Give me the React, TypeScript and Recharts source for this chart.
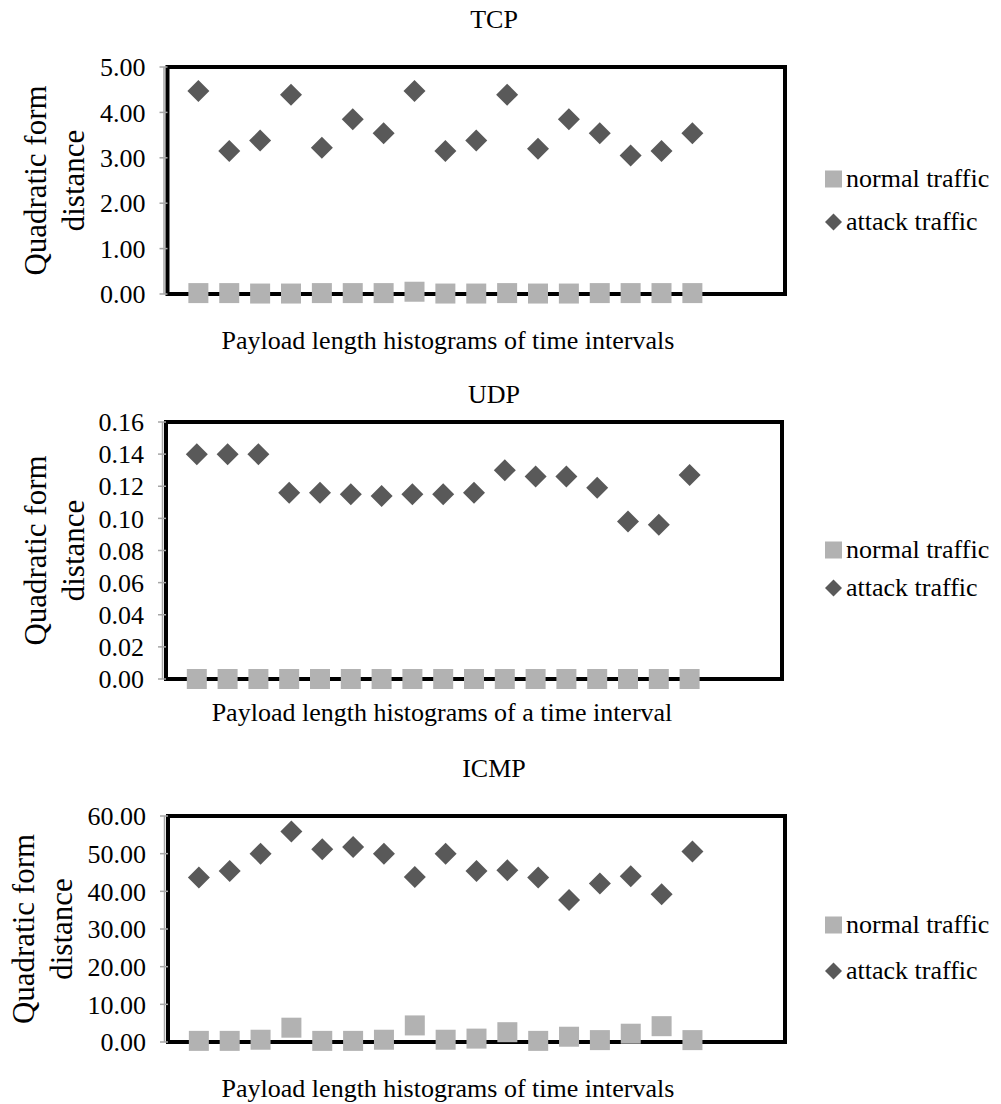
import React from 'react';
import { ScatterChart, Scatter, XAxis, YAxis, ReferenceArea, Legend, Label } from 'recharts';

// x positions of the histograms (Excel scatter, x axis runs 0..20)
const intervals = [1, 2, 3, 4, 5, 6, 7, 8, 9, 10, 11, 12, 13, 14, 15, 16, 17];

const tcpNormal = [0.02, 0.02, 0.01, 0.01, 0.02, 0.02, 0.02, 0.05, 0.01, 0.01, 0.02, 0.01, 0.01, 0.02, 0.02, 0.02, 0.02];
const tcpAttack = [4.47, 3.15, 3.38, 4.39, 3.22, 3.85, 3.54, 4.47, 3.15, 3.38, 4.39, 3.2, 3.85, 3.54, 3.05, 3.15, 3.54];

const udpNormal = [0, 0, 0, 0, 0, 0, 0, 0, 0, 0, 0, 0, 0, 0, 0, 0, 0];
const udpAttack = [0.14, 0.14, 0.14, 0.116, 0.116, 0.115, 0.114, 0.115, 0.115, 0.116, 0.13, 0.126, 0.126, 0.119, 0.098, 0.096, 0.127];

const icmpNormal = [0.3, 0.3, 0.6, 3.8, 0.3, 0.3, 0.6, 4.4, 0.6, 0.9, 2.6, 0.3, 1.4, 0.5, 2.2, 4.2, 0.5];
const icmpAttack = [43.7, 45.4, 50.0, 55.9, 51.2, 51.8, 50.0, 43.8, 50.0, 45.4, 45.6, 43.7, 37.7, 42.1, 44.0, 39.2, 50.6];

const tcpTicks = [0, 1, 2, 3, 4, 5];
const udpTicks = [0, 0.02, 0.04, 0.06, 0.08, 0.1, 0.12, 0.14, 0.16];
const icmpTicks = [0, 10, 20, 30, 40, 50, 60];

const seriesNames = ['normal traffic', 'attack traffic'];
const yTitle = ['Quadratic form', 'distance'];

const FONT = '"Liberation Serif", "Times New Roman", serif';
const normalColor = '#b2b2b2';
const attackColor = '#595959';
const axisGray = '#a6a6a6';

const toPoints = (ys: number[]) => intervals.map((x, i) => ({ x, y: ys[i] }));

const panels = [
  {
    title: 'TCP', xTitle: 'Payload length histograms of time intervals',
    normal: tcpNormal, attack: tcpAttack, ticks: tcpTicks,
    top: 0, height: 370, plotTop: 67, plotBottom: 294, plotLeft: 167.5, plotRight: 785,
    titleY: 20, xTitleX: 448, xTitleY: 340, yTitleX: 35, legendY: 179, legendGap: 43,
  },
  {
    title: 'UDP', xTitle: 'Payload length histograms of a time interval',
    normal: udpNormal, attack: udpAttack, ticks: udpTicks,
    top: 370, height: 375, plotTop: 422, plotBottom: 679, plotLeft: 166, plotRight: 782,
    titleY: 395, xTitleX: 442, xTitleY: 712, yTitleX: 35, legendY: 550, legendGap: 38,
  },
  {
    title: 'ICMP', xTitle: 'Payload length histograms of time intervals',
    normal: icmpNormal, attack: icmpAttack, ticks: icmpTicks,
    top: 745, height: 359, plotTop: 816, plotBottom: 1042, plotLeft: 168, plotRight: 785,
    titleY: 769, xTitleX: 448, xTitleY: 1088, yTitleX: 23, legendY: 925, legendGap: 46,
  },
];

const SquareMark = (p: any) => (
  <rect x={p.cx - 10} y={p.cy - 10} width={20} height={20} fill={normalColor} />
);

const DiamondMark = (p: any) => (
  <polygon
    points={`${p.cx},${p.cy - 11} ${p.cx + 11},${p.cy} ${p.cx},${p.cy + 11} ${p.cx - 11},${p.cy}`}
    fill={attackColor}
  />
);

const renderLegend = (gap: number) => (props: any) => {
  // keep the series order (recharts sorts legend items by name)
  const items = [...(props.payload || [])].sort(
    (a: any, b: any) => seriesNames.indexOf(a.value) - seriesNames.indexOf(b.value)
  );
  return (
    <div style={{ position: 'relative', width: 180, height: gap + 30 }}>
      {items.map((entry: any, i: number) => (
        <div
          key={`legend-${i}`}
          style={{ position: 'absolute', left: 0, top: i * gap, height: 30, display: 'flex', alignItems: 'center' }}
        >
          <svg width={22} height={20} style={{ display: 'block' }}>
            {entry.type === 'square' ? (
              <rect x={1} y={1.5} width={17} height={17} fill={entry.color} />
            ) : (
              <polygon points="9.5,1.5 18,10 9.5,18.5 1,10" fill={entry.color} />
            )}
          </svg>
          <span style={{ fontFamily: FONT, fontSize: 26, lineHeight: '30px', color: '#000', whiteSpace: 'nowrap' }}>
            {entry.value}
          </span>
        </div>
      ))}
    </div>
  );
};

function Panel({ cfg }: { cfg: (typeof panels)[number] }) {
  const yAxisWidth = 150;
  const xAxisHeight = 1;
  const yMax = cfg.ticks[cfg.ticks.length - 1];
  const margin = {
    top: cfg.plotTop - cfg.top,
    left: cfg.plotLeft - yAxisWidth,
    right: 1001 - cfg.plotRight,
    bottom: cfg.height - (cfg.plotBottom - cfg.top) - xAxisHeight,
  };

  const yLabel = (props: any) => {
    const vb = props.viewBox;
    const cy = vb.y + vb.height / 2;
    return (
      <g>
        {yTitle.map((line, i) => {
          const cx = cfg.yTitleX + i * 38.5;
          return (
            <text
              key={line}
              x={cx}
              y={cy}
              transform={`rotate(-90 ${cx} ${cy})`}
              textAnchor="middle"
              dominantBaseline="central"
              fontFamily={FONT}
              fontSize={31}
              fill="#000"
            >
              {line}
            </text>
          );
        })}
      </g>
    );
  };

  const xLabel = () => (
    <text
      x={cfg.xTitleX}
      y={cfg.xTitleY - cfg.top}
      textAnchor="middle"
      dominantBaseline="central"
      fontFamily={FONT}
      fontSize={26}
      fill="#000"
    >
      {cfg.xTitle}
    </text>
  );

  return (
    <div style={{ position: 'absolute', left: 0, top: cfg.top, width: 1001, height: cfg.height }}>
      <div
        style={{
          position: 'absolute', left: 0, width: 988, top: cfg.titleY - cfg.top - 15, height: 30,
          lineHeight: '30px', textAlign: 'center', fontFamily: FONT, fontSize: 26, color: '#000', zIndex: 2,
        }}
      >
        {cfg.title}
      </div>
      <ScatterChart width={1001} height={cfg.height} margin={margin}>
        <XAxis
          type="number"
          dataKey="x"
          domain={[0, 20]}
          height={xAxisHeight}
          tick={false}
          tickLine={false}
          axisLine={false}
        >
          <Label content={xLabel} />
        </XAxis>
        <YAxis
          type="number"
          dataKey="y"
          domain={[0, yMax]}
          ticks={cfg.ticks}
          interval={0}
          width={yAxisWidth}
          tickFormatter={(v: number) => v.toFixed(2)}
          tick={{ fill: '#000', fontSize: 26, fontFamily: FONT }}
          tickSize={8}
          tickMargin={14}
          tickLine={{ stroke: axisGray, strokeWidth: 1.5 }}
          axisLine={{ stroke: axisGray, strokeWidth: 1.5, transform: 'translate(-3.5 0)' }}
        >
          <Label content={yLabel} />
        </YAxis>
        <ReferenceArea
          x1={0}
          x2={20}
          y1={0}
          y2={yMax}
          fill="none"
          fillOpacity={0}
          stroke="#000"
          strokeWidth={4}
          ifOverflow="visible"
        />
        <Scatter
          name={seriesNames[0]}
          data={toPoints(cfg.normal)}
          fill={normalColor}
          legendType="square"
          shape={SquareMark}
          isAnimationActive={false}
        />
        <Scatter
          name={seriesNames[1]}
          data={toPoints(cfg.attack)}
          fill={attackColor}
          legendType="diamond"
          shape={DiamondMark}
          isAnimationActive={false}
        />
        <Legend
          layout="vertical"
          align="center"
          verticalAlign="middle"
          content={renderLegend(cfg.legendGap)}
          wrapperStyle={{ left: 824, top: cfg.legendY - cfg.top - 15, width: 180 }}
        />
      </ScatterChart>
    </div>
  );
}

export default function App() {
  return (
    <div style={{ position: 'absolute', left: 0, top: 0, width: 1001, height: 1104, background: '#fff' }}>
      {panels.map((p) => (
        <Panel key={p.title} cfg={p} />
      ))}
    </div>
  );
}
